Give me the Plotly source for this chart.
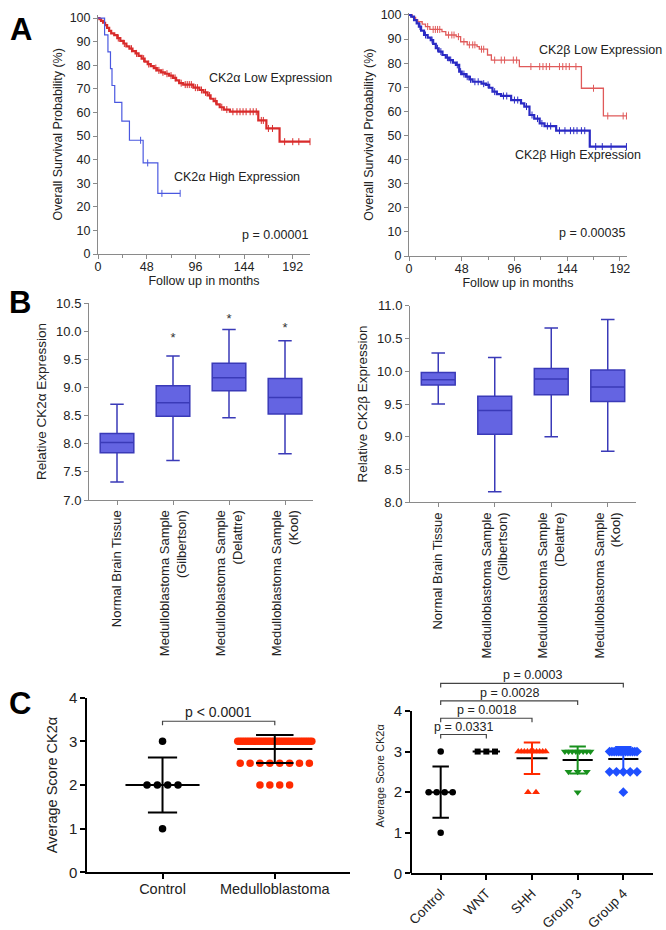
import numpy as np
import plotly.graph_objects as go

FONT = "Arial, 'Liberation Sans', Helvetica, sans-serif"
W, H = 666, 930

# ---------------- Panel A: Kaplan-Meier data ----------------
# CK2alpha low expression (months, survival %)
a1_low_t = [0, 1.5, 3, 5, 7, 9, 11, 13, 16, 19, 22, 25, 28, 31, 34, 37, 40, 43, 46, 49,
            52, 55, 58, 62, 66, 70, 74, 77, 80, 84, 94, 100, 104, 108, 111, 114, 117, 120,
            124, 130, 158, 166, 179]
a1_low_s = [100, 99.5, 98.8, 98, 97, 95.8, 94.6, 93.5, 92.8, 91.5, 90.3, 89.2, 88, 87, 86,
            85, 84, 82.8, 81.5, 80.5, 79.6, 78.8, 77.8, 77, 76.4, 75.6, 74.6, 73.6, 72.4,
            71.8, 70.5, 69.5, 68.5, 67.2, 65.8, 64.8, 63.4, 62.2, 61.2, 60.3, 56.6, 53.2, 47.6]
a1_low_end = 210
a1_low_cens = [20, 26, 33, 38, 45, 50, 57, 60, 64, 68, 72, 76, 82, 86, 88, 90, 92, 96, 98,
               102, 106, 110, 116, 122, 127, 133, 137, 140, 143, 146, 150, 153, 156, 161,
               163, 168, 172, 184, 192, 198, 209]
# CK2alpha high expression
a1_high_t = [0, 6.5, 9.8, 12.3, 13.8, 16.5, 23.5, 31, 44.5, 59]
a1_high_s = [100, 92.9, 85.7, 78.6, 71.4, 64.3, 56.3, 48.2, 38.6, 25.7]
a1_high_end = 81
a1_high_cens = [42, 49, 63, 81]

# CK2beta low expression
a2_low_t = [0, 3, 6, 8, 12, 15, 19, 30, 33.5, 43, 47, 53, 62, 64, 71.5, 75, 100.5, 157, 177]
a2_low_s = [100, 99, 98, 97.2, 96.2, 95.2, 94, 93.1, 91.7, 91, 88.9, 87.6, 86.9, 85.8, 83.4,
            81.3, 78.6, 69.6, 58.1]
a2_low_end = 198
a2_low_cens = [17, 22, 24, 26, 28, 36, 39, 41, 45, 50, 55, 58, 60, 66, 68, 78, 84, 87, 95, 98,
               111, 119, 122, 125, 128, 137, 140, 143, 146, 152, 168, 181, 195, 198]
# CK2beta high expression
a2_high_t = [0, 2, 4.6, 7, 9, 11, 13.7, 17, 19.8, 22, 24.4, 27, 30.5, 33.5, 36.6, 40, 42.7,
             45.7, 48, 51.8, 55, 57.9, 66, 70, 73, 76, 80, 83.8, 93, 102, 105, 109.7, 114,
             119, 123.4, 134, 164.6]
a2_high_s = [100, 99.3, 97.9, 96.5, 95.2, 93.5, 91.7, 90.6, 89.6, 88, 86.2, 84.8, 83.4, 82.3,
             81.3, 80.2, 79.3, 76.5, 75.5, 74.4, 73.3, 72.3, 71.5, 71, 69.8, 68.2, 67.2, 66.4,
             64.7, 63.3, 62, 58.5, 57, 55, 53.9, 52, 45.4]
a2_high_end = 198
a2_high_cens = [10, 15, 21, 26, 29, 35, 38, 44, 47, 50, 53, 56, 60, 63, 68, 72, 78, 86, 89,
                96, 99, 107, 112, 117, 121, 126, 129, 137, 142, 147, 150, 153, 157, 160, 170,
                176, 184, 198]

# ---------------- Panel B: box plots ----------------
b_categories = ["Normal Brain Tissue", "Medulloblastoma Sample<br>(Gilbertson)",
                "Medulloblastoma Sample<br>(Delattre)", "Medulloblastoma Sample<br>(Kool)"]
b1_low = [7.32, 7.70, 8.46, 7.82]
b1_q1 = [7.84, 8.49, 8.94, 8.53]
b1_med = [8.02, 8.73, 9.17, 8.82]
b1_q3 = [8.18, 9.03, 9.43, 9.16]
b1_high = [8.70, 9.56, 10.03, 9.83]
b1_star_y = [None, 9.86, 10.21, 10.04]

b2_low = [9.50, 8.16, 9.00, 8.78]
b2_q1 = [9.79, 9.04, 9.64, 9.54]
b2_med = [9.87, 9.40, 9.88, 9.76]
b2_q3 = [9.98, 9.62, 10.04, 10.02]
b2_high = [10.28, 10.21, 10.66, 10.79]

# ---------------- Panel C: scores ----------------
c1_categories = ["Control", "Medulloblastoma"]
c_control = [3, 2, 2, 2, 2, 1]
c_medullo = [3] * 34 + [2.5] * 8 + [2] * 4
c2_categories = ["Control", "WNT", "SHH", "Group 3", "Group 4"]
c_wnt = [3, 3, 3]
c_shh = [3] * 10 + [2, 2]
c_g3 = [3] * 8 + [2.5] * 3 + [2]
c_g4 = [3] * 13 + [2.5] * 5 + [2]
c1_pval = "p < 0.0001"
c2_pairs = [(0, 1), (0, 2), (0, 3), (0, 4)]
c2_pvals = ["p = 0.0331", "p = 0.0018", "p = 0.0028", "p = 0.0003"]
c2_bracket_y = [3.42, 3.82, 4.25, 4.68]


def dx(px):
    return px / W


def dy(py):
    return 1 - py / H


def km_xy(t, s, end):
    return list(t) + [end], list(s) + [s[-1]]


def cens_y(t, s, c):
    idx = np.searchsorted(np.array(t), np.array(c), side="right") - 1
    return list(np.array(s)[idx])


def swarm(vals, center, spacing, maxhalf):
    vals = np.array(vals, dtype=float)
    xs = np.zeros(len(vals))
    for v in np.unique(vals):
        idx = np.where(vals == v)[0]
        n = len(idx)
        if n == 1:
            xs[idx] = center
            continue
        sp = min(spacing, 2 * maxhalf / (n - 1))
        xs[idx] = center + (np.arange(n) - (n - 1) / 2) * sp
    return list(xs)


fig = go.Figure()

RED_A = "#d92b2b"
BLUE_A = "#4a58e0"
RED_B = "#e05a5a"
BLUE_B = "#2a2ac4"


def add_km(t, s, end, cens, color, width, xa, ya):
    x, y = km_xy(t, s, end)
    fig.add_trace(go.Scatter(x=x, y=y, mode="lines", line=dict(color=color, width=width, shape="hv"),
                             xaxis=xa, yaxis=ya, showlegend=False, hoverinfo="skip"))
    fig.add_trace(go.Scatter(x=cens, y=cens_y(t, s, cens), mode="markers",
                             marker=dict(symbol="line-ns-open", size=5, color=color,
                                         line=dict(color=color, width=1)),
                             xaxis=xa, yaxis=ya, showlegend=False, hoverinfo="skip", cliponaxis=False))


add_km(a1_low_t, a1_low_s, a1_low_end, a1_low_cens, RED_A, 2.2, "x", "y")
add_km(a1_high_t, a1_high_s, a1_high_end, a1_high_cens, BLUE_A, 1.2, "x", "y")
add_km(a2_low_t, a2_low_s, a2_low_end, a2_low_cens, RED_B, 1.3, "x2", "y2")
add_km(a2_high_t, a2_high_s, a2_high_end, a2_high_cens, BLUE_B, 2.2, "x2", "y2")

BOX_FILL = "#6464e2"
BOX_LINE = "#3a3ab8"
for (lo, q1, md, q3, hi, xa, ya) in [(b1_low, b1_q1, b1_med, b1_q3, b1_high, "x3", "y3"),
                                     (b2_low, b2_q1, b2_med, b2_q3, b2_high, "x4", "y4")]:
    fig.add_trace(go.Box(x=[0, 1, 2, 3], q1=q1, median=md, q3=q3, lowerfence=lo, upperfence=hi,
                         width=0.6, whiskerwidth=0.4, fillcolor=BOX_FILL,
                         line=dict(color=BOX_LINE, width=1.5), boxpoints=False,
                         xaxis=xa, yaxis=ya, showlegend=False, hoverinfo="skip"))

star_x = [i for i, v in enumerate(b1_star_y) if v is not None]
star_yv = [v for v in b1_star_y if v is not None]
fig.add_trace(go.Scatter(x=star_x, y=star_yv, mode="text", text=["*"] * len(star_x),
                         textfont=dict(size=13, color="#333", family=FONT), xaxis="x3", yaxis="y3",
                         showlegend=False, hoverinfo="skip", cliponaxis=False))


def add_group(vals, center, color, symbol, size, spacing, maxhalf, xa, ya, err_color,
              mean_hw, cap_hw):
    xs = swarm(vals, center, spacing, maxhalf)
    fig.add_trace(go.Scatter(x=xs, y=vals, mode="markers",
                             marker=dict(symbol=symbol, size=size, color=color, line=dict(width=0)),
                             xaxis=xa, yaxis=ya, showlegend=False, hoverinfo="skip", cliponaxis=False))
    m = float(np.mean(vals))
    sd = float(np.std(vals, ddof=1))
    fig.add_trace(go.Scatter(x=[center - mean_hw, center + mean_hw], y=[m, m], mode="lines",
                             line=dict(color="black", width=2), xaxis=xa, yaxis=ya,
                             showlegend=False, hoverinfo="skip"))
    if sd > 0:
        fig.add_trace(go.Scatter(
            x=[center, center, None, center - cap_hw, center + cap_hw, None, center - cap_hw, center + cap_hw],
            y=[m - sd, m + sd, None, m + sd, m + sd, None, m - sd, m - sd], mode="lines",
            line=dict(color=err_color, width=2), xaxis=xa, yaxis=ya, showlegend=False, hoverinfo="skip"))


C_RED = "#ff2a00"
C_GREEN = "#17901c"
C_BLUE = "#1f4fff"
add_group(c_control, 0, "black", "circle", 7.5, 0.092, 0.33, "x5", "y5", "black", 0.33, 0.13)
add_group(c_medullo, 1, C_RED, "circle", 7.5, 0.088, 0.33, "x5", "y5", "black", 0.335, 0.167)

add_group(c_control, 0, "black", "circle", 6.5, 0.175, 0.3, "x6", "y6", "black", 0.33, 0.18)
add_group(c_wnt, 1, "black", "square", 6, 0.19, 0.3, "x6", "y6", "black", 0.3, 0.18)
add_group(c_shh, 2, C_RED, "triangle-up", 7, 0.175, 0.3, "x6", "y6", C_RED, 0.34, 0.18)
add_group(c_g3, 3, C_GREEN, "triangle-down", 7, 0.2, 0.28, "x6", "y6", C_GREEN, 0.33, 0.18)
add_group(c_g4, 4, C_BLUE, "diamond", 7.5, 0.175, 0.3, "x6", "y6", C_BLUE, 0.33, 0.18)

shapes = []
annotations = []

# bracket C-left
yb = 3.46
shapes.append(dict(type="path", xref="x5", yref="y5",
                   path=f"M 0,{yb - 0.09} L 0,{yb} L 1,{yb} L 1,{yb - 0.09}",
                   line=dict(color="#444", width=1.2)))
annotations.append(dict(x=0.5, y=yb, xref="x5", yref="y5", text=c1_pval, showarrow=False,
                        yanchor="bottom", yshift=-1, font=dict(size=14, color="#222", family=FONT)))
for (a, b), pv, yv in zip(c2_pairs, c2_pvals, c2_bracket_y):
    shapes.append(dict(type="path", xref="x6", yref="y6",
                       path=f"M {a},{yv - 0.1} L {a},{yv} L {b},{yv} L {b},{yv - 0.1}",
                       line=dict(color="#444", width=1.2)))
    annotations.append(dict(x=(a + b) / 2, y=yv, xref="x6", yref="y6", text=pv, showarrow=False,
                            yanchor="bottom", yshift=-1, font=dict(size=12.5, color="#222", family=FONT)))
# C-right y axis line only from 0 to 4
shapes.append(dict(type="line", xref="x6 domain", yref="y6", x0=0, x1=0, y0=0, y1=4,
                   line=dict(color="black", width=2)))

# KM text annotations
txt = dict(size=12.5, color="#222", family=FONT)
annotations += [
    dict(x=107, y=74.5, xref="x", yref="y", text="CK2α Low Expression", showarrow=False, xanchor="left", font=txt),
    dict(x=73, y=32.6, xref="x", yref="y", text="CK2α High Expression", showarrow=False, xanchor="left", font=txt),
    dict(x=209, y=8.1, xref="x", yref="y", text="p = 0.00001", showarrow=False, xanchor="right", font=txt),
    dict(x=116.5, y=85.5, xref="x2", yref="y2", text="CK2β Low Expression", showarrow=False, xanchor="left", font=txt),
    dict(x=94.6, y=41.9, xref="x2", yref="y2", text="CK2β High Expression", showarrow=False, xanchor="left", font=txt),
    dict(x=198.4, y=9.5, xref="x2", yref="y2", text="p = 0.00035", showarrow=False, xanchor="right", font=txt),
]
for letter, (px, py) in zip(["A", "B", "C"], [(21, 30), (20, 302), (20, 703)]):
    annotations.append(dict(x=dx(px), y=dy(py), xref="paper", yref="paper", text=f"<b>{letter}</b>",
                            showarrow=False, xanchor="center", yanchor="middle",
                            font=dict(size=31, color="black", family=FONT)))

GRAY = "#8a8a8a"
tickfont_a = dict(size=12.5, color="#222", family=FONT)


def gray_axis(**kw):
    d = dict(showline=True, linecolor=GRAY, linewidth=1, ticks="outside", ticklen=4, tickcolor=GRAY,
             showgrid=False, zeroline=False, tickfont=tickfont_a, automargin=False)
    d.update(kw)
    return d


def black_axis(**kw):
    d = dict(showline=True, linecolor="black", linewidth=2, ticks="outside", ticklen=5, tickcolor="black",
             tickwidth=2, showgrid=False, zeroline=False, automargin=False,
             tickfont=dict(size=15, color="#222", family=FONT))
    d.update(kw)
    return d


layout = dict(
    width=W, height=H, margin=dict(l=0, r=0, t=0, b=0, pad=0, autoexpand=False),
    autosize=False,
    paper_bgcolor="white", plot_bgcolor="white",
    font=dict(family=FONT, color="#222"),
    showlegend=False,
    xaxis=gray_axis(domain=[dx(98), dx(310)], range=[0, 209], anchor="y", tick0=0, dtick=48,
                    ticklabelstandoff=-3,
                    minor=dict(ticks="outside", dtick=24, tick0=0, ticklen=3, tickcolor=GRAY),
                    title=dict(text="Follow up in months", font=dict(size=12.5), standoff=1)),
    yaxis=gray_axis(domain=[dy(254), dy(14.5)], range=[0, 101.5], anchor="x", tick0=0, dtick=10,
                    title=dict(text="Overall Survival Probability (%)", font=dict(size=12.5), standoff=4)),
    xaxis2=gray_axis(domain=[dx(409), dx(627)], range=[0, 198.5], anchor="y2", tick0=0, dtick=48,
                     ticklabelstandoff=-3,
                     minor=dict(ticks="outside", dtick=24, tick0=0, ticklen=3, tickcolor=GRAY),
                     title=dict(text="Follow up in months", font=dict(size=12.5), standoff=1)),
    yaxis2=gray_axis(domain=[dy(256), dy(13.3)], range=[0, 100.7], anchor="x2", tick0=0, dtick=10,
                     title=dict(text="Overall Survival Probability (%)", font=dict(size=12.5), standoff=4)),
    xaxis3=gray_axis(domain=[dx(89), dx(313)], range=[-0.5, 3.5], anchor="y3", tickmode="array",
                     tickvals=[0, 1, 2, 3], ticktext=b_categories, tickangle=-90,
                     tickfont=dict(size=13, color="#222", family=FONT)),
    yaxis3=gray_axis(domain=[dy(500), dy(303)], range=[7.0, 10.5], anchor="x3", tick0=7, dtick=0.5,
                     tickformat=".1f", tickfont=dict(size=13, color="#222", family=FONT),
                     title=dict(text="Relative CK2α Expression", font=dict(size=13.5), standoff=6)),
    xaxis4=gray_axis(domain=[dx(410), dx(636)], range=[-0.5, 3.5], anchor="y4", tickmode="array",
                     tickvals=[0, 1, 2, 3], ticktext=b_categories, tickangle=-90,
                     tickfont=dict(size=13, color="#222", family=FONT)),
    yaxis4=gray_axis(domain=[dy(502.3), dy(305.7)], range=[8.0, 11.0], anchor="x4", tick0=8, dtick=0.5,
                     tickformat=".1f", tickfont=dict(size=13, color="#222", family=FONT),
                     title=dict(text="Relative CK2β Expression", font=dict(size=13.5), standoff=6)),
    xaxis5=black_axis(domain=[dx(87.3), dx(350)], range=[-0.67, 1.67], anchor="y5", tickmode="array",
                      tickvals=[0, 1], ticktext=c1_categories, ticklabelstandoff=-3,
                      tickfont=dict(size=14.5, color="#222", family=FONT)),
    yaxis5=black_axis(domain=[dy(872.3), dy(697.7)], range=[0, 4], anchor="x5", tickvals=[0, 1, 2, 3, 4],
                      title=dict(text="Average Score CK2α", font=dict(size=14.5), standoff=8)),
    xaxis6=black_axis(domain=[dx(411), dx(653)], range=[-0.65, 4.65], anchor="y6", tickmode="array",
                      tickvals=[0, 1, 2, 3, 4], ticktext=c2_categories, tickangle=-45,
                      tickfont=dict(size=13.5, color="#222", family=FONT)),
    yaxis6=black_axis(domain=[dy(873.3), dy(678.5)], range=[0, 4.8], anchor="x6", tickvals=[0, 1, 2, 3, 4],
                      showline=False,
                      title=dict(text="Average Score CK2α", font=dict(size=11), standoff=6)),
    shapes=shapes,
    annotations=annotations,
)
fig.update_layout(**layout)
fig.write_html("out.html", config={"displayModeBar": False},
               post_script="document.body.style.margin='0';document.body.style.padding='0';")
